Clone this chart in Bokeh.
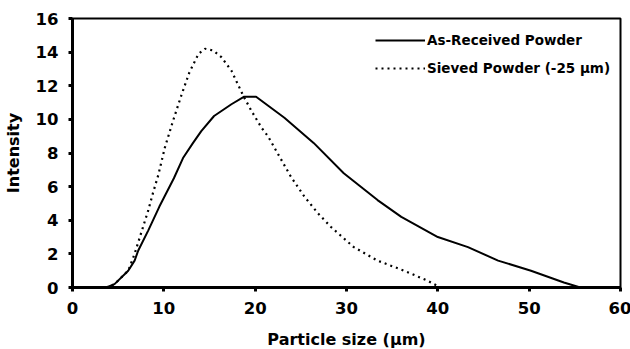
from bokeh.plotting import figure
from bokeh.models import FixedTicker, Legend, LegendItem, Range1d
from bokeh.embed import file_html
from bokeh.resources import INLINE

# Particle size (um) and intensity values
as_received_x = [3.7, 4.6, 6.1, 6.8, 7.2, 8.3, 9.5, 11.1, 12.1, 13.2, 14.1, 15.5, 17.4, 18.8, 20.1,
                 23.2, 26.4, 29.7, 33.4, 36.0, 40.0, 43.3, 46.6, 50.2, 53.8, 55.6]
as_received_y = [0.0, 0.2, 1.0, 1.6, 2.2, 3.4, 4.8, 6.5, 7.7, 8.6, 9.3, 10.2, 10.9, 11.35, 11.35,
                 10.1, 8.6, 6.8, 5.2, 4.2, 3.0, 2.4, 1.6, 1.0, 0.3, 0.0]

sieved_x = [3.7, 4.6, 6.1, 6.8, 8.3, 8.8, 9.4, 10.1, 11.0, 11.9, 12.8, 13.8, 14.5, 15.4, 16.3,
            17.4, 18.7, 19.6, 20.7, 21.4, 23.9, 25.4, 26.9, 28.3, 30.8, 33.4, 36.3, 38.9, 40.1]
sieved_y = [0.0, 0.2, 1.0, 2.0, 4.6, 5.6, 6.7, 8.3, 9.9, 11.4, 12.8, 13.9, 14.2, 14.1, 13.7,
            12.9, 11.4, 10.5, 9.5, 9.0, 6.6, 5.4, 4.4, 3.6, 2.4, 1.6, 1.0, 0.4, 0.05]

x_ticks = [0, 10, 20, 30, 40, 50, 60]
y_ticks = [0, 2, 4, 6, 8, 10, 12, 14, 16]

labels = ["As-Received Powder", "Sieved Powder (-25 µm)"]

p = figure(frame_width=548, frame_height=269, output_backend="svg", toolbar_location=None,
           x_range=Range1d(0, 60), y_range=Range1d(0, 16),
           min_border_left=71, min_border_right=11, min_border_top=18, min_border_bottom=62)

p.background_fill_color = "white"
p.border_fill_color = "white"
p.outline_line_color = "black"
p.outline_line_width = 2
p.xgrid.visible = False
p.ygrid.visible = False

r1 = p.line(as_received_x, as_received_y, line_color="black", line_width=2)
r2 = p.line(sieved_x, sieved_y, line_color="black", line_width=2.2, line_dash="2 4")

for ax in (p.xaxis[0], p.yaxis[0]):
    ax.axis_line_width = 3
    ax.axis_line_color = "black"
    ax.major_tick_line_width = 3
    ax.major_tick_out = 4
    ax.major_tick_in = 0
    ax.minor_tick_line_color = None
    ax.major_label_text_font = "DejaVu Sans"
    ax.major_label_text_font_style = "bold"
    ax.major_label_text_font_size = "16.5px"
    ax.major_label_text_color = "black"
    ax.axis_label_text_font = "DejaVu Sans"
    ax.axis_label_text_font_style = "bold"
    ax.axis_label_text_font_size = "16px"
    ax.axis_label_text_color = "black"

p.xaxis[0].ticker = FixedTicker(ticks=x_ticks)
p.yaxis[0].ticker = FixedTicker(ticks=y_ticks)
p.xaxis[0].axis_label = "Particle size (µm)"
p.yaxis[0].axis_label = "Intensity"
p.xaxis[0].major_label_standoff = 10
p.yaxis[0].major_label_standoff = 10
p.xaxis[0].axis_label_standoff = 13
p.yaxis[0].axis_label_standoff = 10

legend = Legend(items=[LegendItem(label=labels[0], renderers=[r1]),
                       LegendItem(label=labels[1], renderers=[r2])],
                location=(303, 205), glyph_width=50, glyph_height=28, label_height=28,
                label_standoff=2, spacing=0, padding=0, margin=0,
                border_line_alpha=0, background_fill_alpha=0,
                label_text_font="DejaVu Sans", label_text_font_style="bold",
                label_text_font_size="13.5px", label_text_color="black")
p.add_layout(legend)

open("out.html", "w").write(file_html(p, INLINE))
